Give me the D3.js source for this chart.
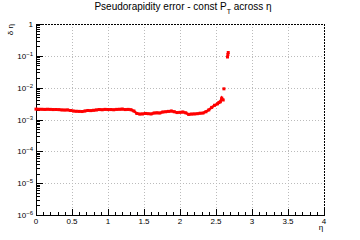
<!DOCTYPE html>
<html><head><meta charset="utf-8">
<script src="https://cdn.jsdelivr.net/npm/d3@7"></script>
<style>body{margin:0;background:#fff}svg{display:block}text{font-family:"Liberation Sans",Arial,sans-serif}</style>
</head><body>
<svg id="c" width="360" height="240"></svg>
<script>
const etaVals = [0.00,0.04,0.08,0.12,0.16,0.20,0.24,0.28,0.32,0.36,0.40,0.44,0.48,0.52,0.56,0.60,0.64,0.68,0.72,0.76,0.80,0.84,0.88,0.92,0.96,1.00,1.04,1.08,1.12,1.16,1.20,1.24,1.28,1.32,1.36,1.40,1.44,1.48,1.52,1.56,1.60,1.64,1.68,1.72,1.76,1.80,1.84,1.88,1.92,1.96,2.00,2.04,2.08,2.12,2.16,2.20,2.24,2.28,2.32,2.36,2.40,2.44,2.48,2.52,2.54,2.56,2.58,2.60,2.61,2.66,2.665,2.67];
const dEta = [2.12e-3,2.1e-3,2.1e-3,2.08e-3,2.1e-3,2.08e-3,2.05e-3,2.06e-3,2.04e-3,2.0e-3,1.98e-3,2.0e-3,1.92e-3,1.85e-3,1.82e-3,1.8e-3,1.78e-3,1.85e-3,1.92e-3,1.9e-3,1.95e-3,2.0e-3,2.05e-3,2.02e-3,2.08e-3,2.05e-3,2.05e-3,2.02e-3,2.08e-3,2.1e-3,2.12e-3,2.05e-3,2.08e-3,2.02e-3,1.85e-3,1.55e-3,1.48e-3,1.5e-3,1.55e-3,1.52e-3,1.5e-3,1.6e-3,1.62e-3,1.6e-3,1.72e-3,1.75e-3,1.8e-3,1.85e-3,1.75e-3,1.65e-3,1.68e-3,1.72e-3,1.62e-3,1.45e-3,1.48e-3,1.5e-3,1.52e-3,1.58e-3,1.6e-3,1.75e-3,2.0e-3,2.4e-3,2.8e-3,3.1e-3,3.4e-3,3.6e-3,4.7e-3,4.1e-3,9.2e-3,0.092,0.11,0.127];
const xTicks = [0,0.5,1,1.5,2,2.5,3,3.5,4];
const xTickLabels = ["0","0.5","1","1.5","2","2.5","3","3.5","4"];
const yExps = [0,-1,-2,-3,-4,-5,-6];

const svg = d3.select("#c");
const L=36,R=324,T=24,B=215;
const x = d3.scaleLinear().domain([0,4]).range([L,R]);
const y = d3.scaleLog().domain([1e-6,1]).range([B,T]);

// grid
const g = svg.append("g");
g.selectAll("line.gx").data(xTicks.slice(1,-1)).join("line")
 .attr("x1",d=>x(d)+0.5).attr("x2",d=>x(d)+0.5).attr("y1",T).attr("y2",B)
 .attr("stroke","#bbb").attr("stroke-dasharray","1,2");
g.selectAll("line.gy").data(yExps.slice(1,-1)).join("line")
 .attr("y1",d=>Math.round(y(Math.pow(10,d)))+0.5).attr("y2",d=>Math.round(y(Math.pow(10,d)))+0.5).attr("x1",L).attr("x2",R)
 .attr("stroke","#bbb").attr("stroke-dasharray","1,2");

// frame top/right dashed
svg.append("line").attr("x1",L).attr("x2",R).attr("y1",T+0.5).attr("y2",T+0.5).attr("stroke","#000").attr("stroke-dasharray","2,1");
svg.append("line").attr("x1",R+0.5).attr("x2",R+0.5).attr("y1",T).attr("y2",B).attr("stroke","#000").attr("stroke-dasharray","2,1");

// axes
svg.append("line").attr("x1",L+0.5).attr("x2",L+0.5).attr("y1",T).attr("y2",B+0.5).attr("stroke","#000");
svg.append("line").attr("x1",L).attr("x2",R+1).attr("y1",B+0.5).attr("y2",B+0.5).attr("stroke","#000");

// x ticks
const xMinor = d3.range(0,41).map(i=>i/10);
svg.append("g").selectAll("line").data(xMinor).join("line")
 .attr("x1",d=>Math.round(x(d))+0.5).attr("x2",d=>Math.round(x(d))+0.5)
 .attr("y1",B).attr("y2",(d,i)=> i%5===0 ? B-6 : B-3).attr("stroke","#000");
svg.append("g").selectAll("text").data(xTicks).join("text")
 .attr("x",d=>x(d)).attr("y",B+9).attr("text-anchor","middle").attr("font-size",8)
 .text((d,i)=>xTickLabels[i]);

// y ticks
const yMinor=[];
for(let e=-6;e<0;e++){for(let m=2;m<=9;m++)yMinor.push(m*Math.pow(10,e));}
svg.append("g").selectAll("line").data(yMinor).join("line")
 .attr("y1",d=>Math.round(y(d))+0.5).attr("y2",d=>Math.round(y(d))+0.5)
 .attr("x1",L).attr("x2",L+4).attr("stroke","#000");
svg.append("g").selectAll("line").data(yExps).join("line")
 .attr("y1",d=>Math.round(y(Math.pow(10,d)))+0.5).attr("y2",d=>Math.round(y(Math.pow(10,d)))+0.5)
 .attr("x1",L).attr("x2",L+7).attr("stroke","#000");
const yl = svg.append("g").selectAll("text").data(yExps).join("text")
 .attr("x",L-3).attr("y",d=>y(Math.pow(10,d))+3).attr("text-anchor","end").attr("font-size",8);
yl.each(function(d){
  const t=d3.select(this);
  if(d===0){t.text("1");}
  else{t.append("tspan").text("10");t.append("tspan").attr("dy",-3).attr("font-size",6).text("\u2212"+(-d));}
});

// data markers
svg.append("g").selectAll("rect").data(etaVals).join("rect")
 .attr("x",(d)=>x(d)-1.5).attr("y",(d,i)=>y(dEta[i])-1.5).attr("width",3).attr("height",3).attr("fill","#f00");
svg.append("path").datum(etaVals.slice(0,68)).attr("fill","none").attr("stroke","#f00").attr("stroke-width",2.5)
 .attr("d",d3.line().x(d=>x(d)).y((d,i)=>y(dEta[i])));

// title
const ti = svg.append("text").attr("x",183).attr("y",10).attr("text-anchor","middle").attr("font-size",10);
ti.append("tspan").text("Pseudorapidity error - const P");
ti.append("tspan").attr("font-size",7).attr("dy",4).text("T");
ti.append("tspan").attr("dy",-4).text(" across \u03b7");

// axis labels
svg.append("text").attr("x",321).attr("y",230).attr("text-anchor","middle").attr("font-size",8).text("\u03b7");
svg.append("text").attr("transform","translate(13,24) rotate(-90)").attr("text-anchor","end").attr("font-size",8).text("\u03b4 \u03b7");
</script>
</body></html>
